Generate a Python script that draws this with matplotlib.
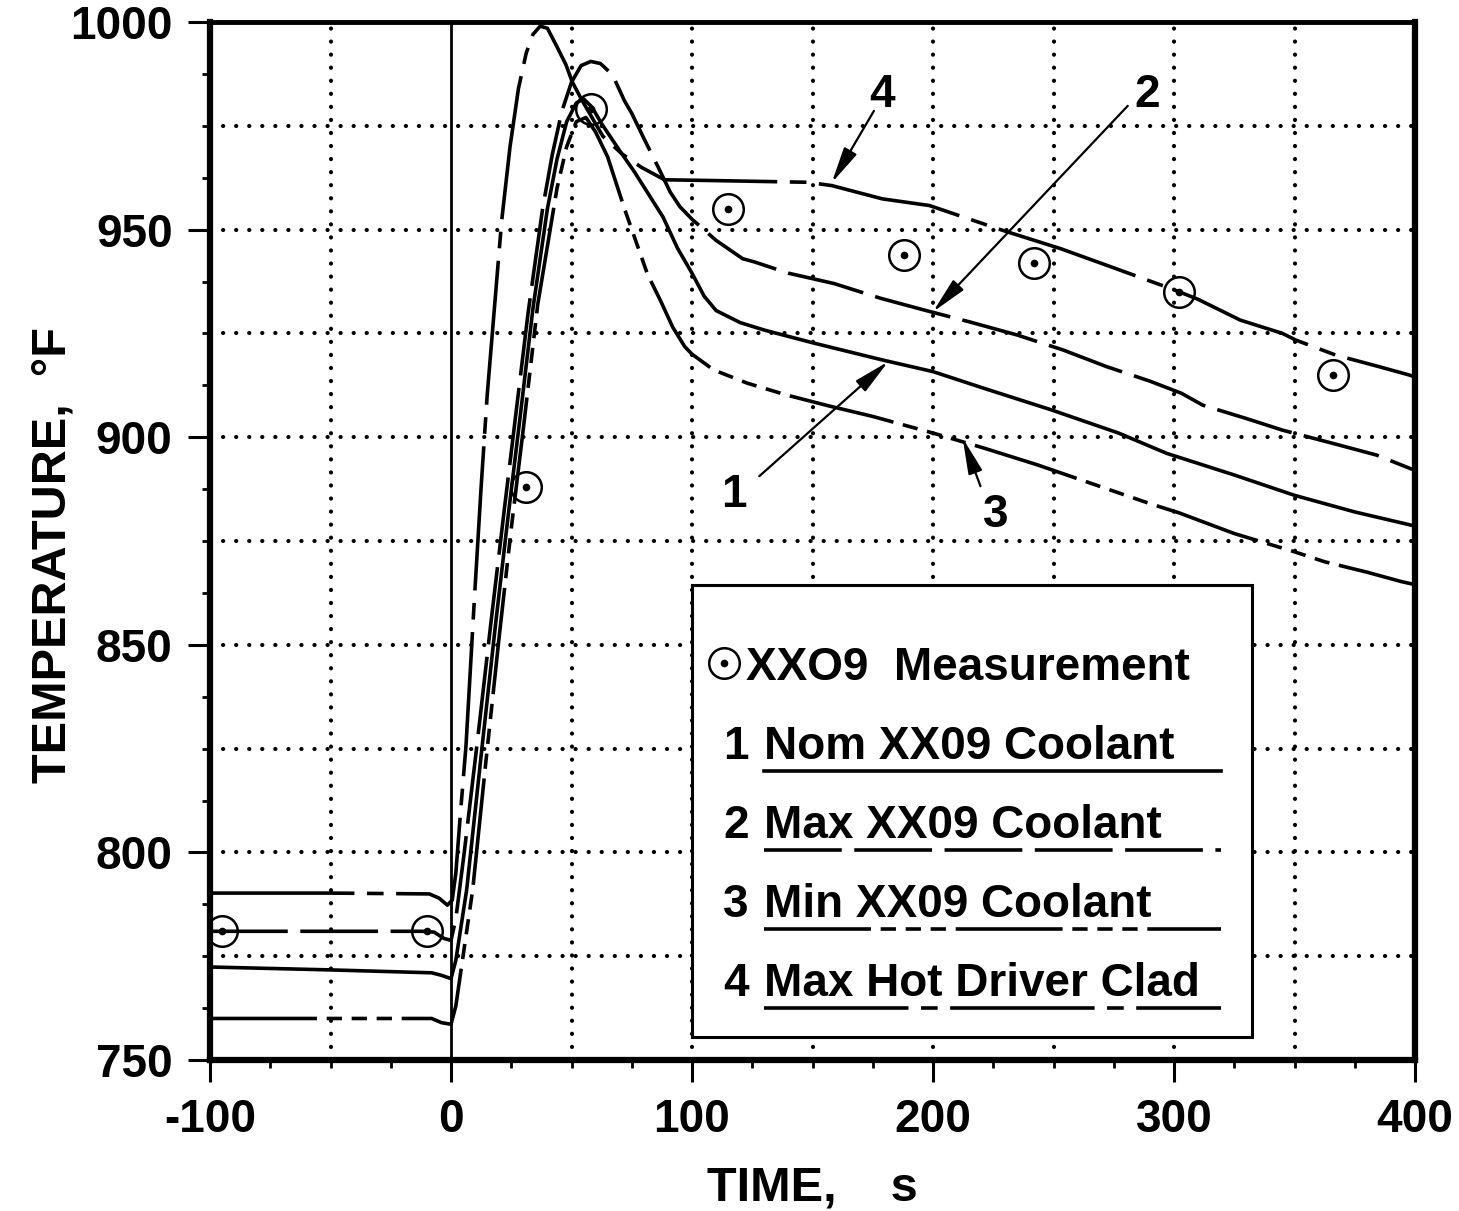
"""
XX09 clad temperature transient: measured thermocouple points against the
four calculated curves (nominal / max / min coolant, max hot driver clad).
"""

import matplotlib

matplotlib.use("Agg")
import matplotlib.pyplot as plt
from matplotlib.patches import Rectangle
from matplotlib.ticker import MultipleLocator

# measured points
MEAS_TIME = [-95, -10, 31, 58, 115, 188, 242, 302, 366]
MEAS_TEMP = [781, 781, 888, 979, 955, 944, 942, 935, 915]

# 1: nominal XX09 coolant
NOM_TIME = [-100, -50, -8, -4, 0, 2, 6.5, 13, 18.5, 23.5, 28.5, 34, 40, 44, 48, 52, 55,
            58.5, 62.5, 70, 76, 82, 88, 94, 100, 105, 110, 120, 130, 151, 179, 200, 221,
            249, 277, 297, 325, 350, 375, 400]
NOM_TEMP = [772.4, 771.7, 771.0, 770.4, 769.6, 774, 791, 826, 855, 880, 904, 931, 955, 967,
            976, 980.5, 981.5, 979.5, 975.5, 969, 964, 958.5, 953, 945.5, 939.5, 934, 930.5,
            927.6, 925.8, 922.6, 918.6, 915.8, 911.8, 906.6, 901, 896.1, 890.9, 886, 882,
            878.6]

# 2: max XX09 coolant
MAX_TIME = [-100, -50, -12, -7, -3, 0, 2, 5.5, 11, 16.5, 22, 27, 32, 38, 42, 46, 50, 54, 58,
            62, 67, 72, 75, 80, 86, 91, 95, 100, 110, 121, 126, 140, 159, 178, 196.5, 215,
            235, 254, 272, 290, 303, 312, 330, 345, 366, 384, 400]
MAX_TEMP = [781, 781, 781, 780.8, 779.3, 778.8, 784, 800, 827, 855, 882, 906, 930, 955, 968,
            978.5, 985.5, 989.5, 990.5, 990, 987.3, 981, 978, 972, 965, 959, 955.5, 952.5,
            947.4, 943, 942.2, 939.5, 937, 933.5, 930.6, 927.8, 924.6, 921, 917, 913.5,
            910.6, 907.7, 904.5, 901.7, 898.5, 895.7, 892]

# 3: min XX09 coolant
MIN_TIME = [-100, -50, -8, -4, 0, 2, 5, 9, 14.5, 20, 25, 30, 36, 44, 48, 52, 56, 60, 65, 72,
            81.5, 87, 92, 97, 100, 109, 123, 139, 157, 175, 200, 221, 243, 260, 277, 290,
            302, 325, 350, 362.5, 380, 394.5, 400]
MIN_TEMP = [760, 760, 760, 759, 758.6, 763, 775, 791, 822, 852, 878, 902, 932, 960, 970, 976,
            977, 973.5, 967.5, 955, 939.3, 932.8, 926.5, 921.8, 920, 916.2, 913, 910.2,
            907.5, 905, 901, 897.4, 893.4, 890, 886.6, 884, 881.8, 876.8, 872.4, 870, 867.5,
            865.2, 864.5]

# 4: max hot driver clad
CLAD_TIME = [-100, -50, -9, -5, -1.5, 0.5, 2, 4, 6.2, 9.7, 12.5, 15, 18, 21, 24.5, 28, 31.2,
             34, 37, 40, 44, 47.7, 50.3, 54, 58, 63, 70.8, 79, 88.6, 110, 148, 158, 179,
             198.5, 229, 253, 274, 300.5, 310, 327.5, 345, 350.5, 367, 385, 397.5, 400]
CLAD_TEMP = [790.2, 790.2, 790, 789, 787.3, 788.5, 795, 810, 825.5, 861, 888, 910, 931, 952,
             970, 984, 992.5, 997, 999, 998.5, 994, 989.7, 985.6, 981.5, 977.5, 972.5, 968.3,
             965, 962, 961.8, 961.4, 960.6, 957.4, 955.8, 949.8, 945.4, 941, 935.4, 933.2,
             928.2, 925, 923.4, 919.8, 917, 915, 914.5]

CURVE_IDS = ["1", "2", "3", "4"]
CURVE_LABELS = ["Nom XX09 Coolant", "Max XX09 Coolant", "Min XX09 Coolant",
                "Max Hot Driver Clad"]
MEAS_LABEL = "XXO9  Measurement"

X_TICKS = [-100, 0, 100, 200, 300, 400]
Y_TICKS = [750, 800, 850, 900, 950, 1000]
GRID_X = [-50, 50, 100, 150, 200, 250, 300, 350]
GRID_Y = [775, 800, 825, 850, 875, 900, 925, 950, 975]

# dash patterns in points (lines.scale_dashes is off)
LINESTYLES = {
    "1": "-",
    "2": (0, (56, 9)),
    "3": (0, (77, 7, 11, 7, 11, 7, 11, 7)),
    "4": (0, (104, 9, 12, 9)),
}
DOTTED = (0, (0.1, 9.3))

# callout numbers: label position, arrow tail, arrow tip (data coords)
CALLOUTS = {
    "4": ((179, 982.5), (175.5, 978.6), (158, 961.3)),
    "2": ((289, 982.5), (280.8, 979.8), (200, 930.2)),
    "1": ((117.3, 886), (127.9, 890.6), (181.4, 918.2)),
    "3": ((226, 881.3), (219.7, 888.2), (212.3, 899.8)),
}

FS = 33
LW = 2.6


def draw_measurements(ax, x, y, zorder=4):
    ax.plot(x, y, ls="none", marker="o", ms=22, mfc="none", mec="black", mew=1.8,
            zorder=zorder)
    ax.plot(x, y, ls="none", marker="o", ms=4.5, mfc="black", mec="black", zorder=zorder)


def draw_legend(ax):
    x0, x1, y0, y1 = 100, 332.5, 755.5, 864.5
    ax.add_patch(Rectangle((x0, y0), x1 - x0, y1 - y0, facecolor="white",
                           edgecolor="black", lw=2.2, zorder=5))
    base = 841.5
    step = 19.0
    draw_measurements(ax, [113.3], [base + 4.0], zorder=6)
    ax.text(122.4, base, MEAS_LABEL, fontsize=FS, fontweight="bold", va="baseline",
            zorder=6)
    for i, (cid, label) in enumerate(zip(CURVE_IDS, CURVE_LABELS), start=1):
        yb = base - i * step
        ax.text(118.3, yb, cid, fontsize=FS, fontweight="bold", ha="center",
                va="baseline", zorder=6)
        ax.text(130, yb, label, fontsize=FS, fontweight="bold", va="baseline", zorder=6)
        ax.plot([130, 319.5], [yb - 2.9, yb - 2.9], color="black", lw=LW,
                ls=LINESTYLES[cid], zorder=6)


def main() -> None:
    plt.rcParams["font.family"] = ["Liberation Sans", "DejaVu Sans"]
    plt.rcParams["lines.scale_dashes"] = False
    plt.rcParams["axes.unicode_minus"] = False

    fig = plt.figure(figsize=(14.59, 12.11), dpi=100)
    ax = fig.add_axes([210 / 1459, 1 - 1060 / 1211, 1205 / 1459, 1038 / 1211])

    for gx in GRID_X:
        ax.axvline(gx, color="black", lw=3, ls=DOTTED, dash_capstyle="round", zorder=1)
    for gy in GRID_Y:
        ax.axhline(gy, color="black", lw=3, ls=DOTTED, dash_capstyle="round", zorder=1)
    ax.axvline(0, color="black", lw=2, zorder=1)

    curves = {
        "1": (NOM_TIME, NOM_TEMP),
        "2": (MAX_TIME, MAX_TEMP),
        "3": (MIN_TIME, MIN_TEMP),
        "4": (CLAD_TIME, CLAD_TEMP),
    }
    for cid, (t, temp) in curves.items():
        ax.plot(t, temp, color="black", lw=LW, ls=LINESTYLES[cid], zorder=3)

    draw_measurements(ax, MEAS_TIME, MEAS_TEMP)

    for cid, (txt, tail, tip) in CALLOUTS.items():
        ax.text(*txt, cid, fontsize=FS, fontweight="bold", ha="center", va="center",
                zorder=6)
        ax.annotate("", xy=tip, xytext=tail,
                    arrowprops=dict(arrowstyle="-|>,head_length=1.1,head_width=0.22",
                                    mutation_scale=20, color="black", lw=1.6,
                                    shrinkA=0, shrinkB=0),
                    zorder=6)

    draw_legend(ax)

    ax.set_xlim(-100, 400)
    ax.set_ylim(750, 1000)
    ax.set_xticks(X_TICKS)
    ax.set_yticks(Y_TICKS)
    ax.xaxis.set_minor_locator(MultipleLocator(25))
    ax.yaxis.set_minor_locator(MultipleLocator(12.5))
    ax.tick_params(which="major", direction="out", length=16, width=2.2, pad=11,
                   labelsize=FS)
    ax.tick_params(which="minor", direction="out", length=6, width=2)
    for lab in ax.get_xticklabels() + ax.get_yticklabels():
        lab.set_fontweight("bold")

    for side in ("left", "bottom", "right"):
        ax.spines[side].set_linewidth(4.5)
    ax.spines["top"].set_linewidth(3.5)

    ax.set_xlabel("TIME,    s", fontsize=35, fontweight="bold", va="center")
    ax.xaxis.set_label_coords(0.5, -0.1233)
    ax.set_ylabel("TEMPERATURE,  °F", fontsize=35, fontweight="bold", va="center")
    ax.yaxis.set_label_coords(-0.130, 0.4865)

    fig.savefig("out.png", dpi=100)
    plt.close(fig)


if __name__ == "__main__":
    main()
